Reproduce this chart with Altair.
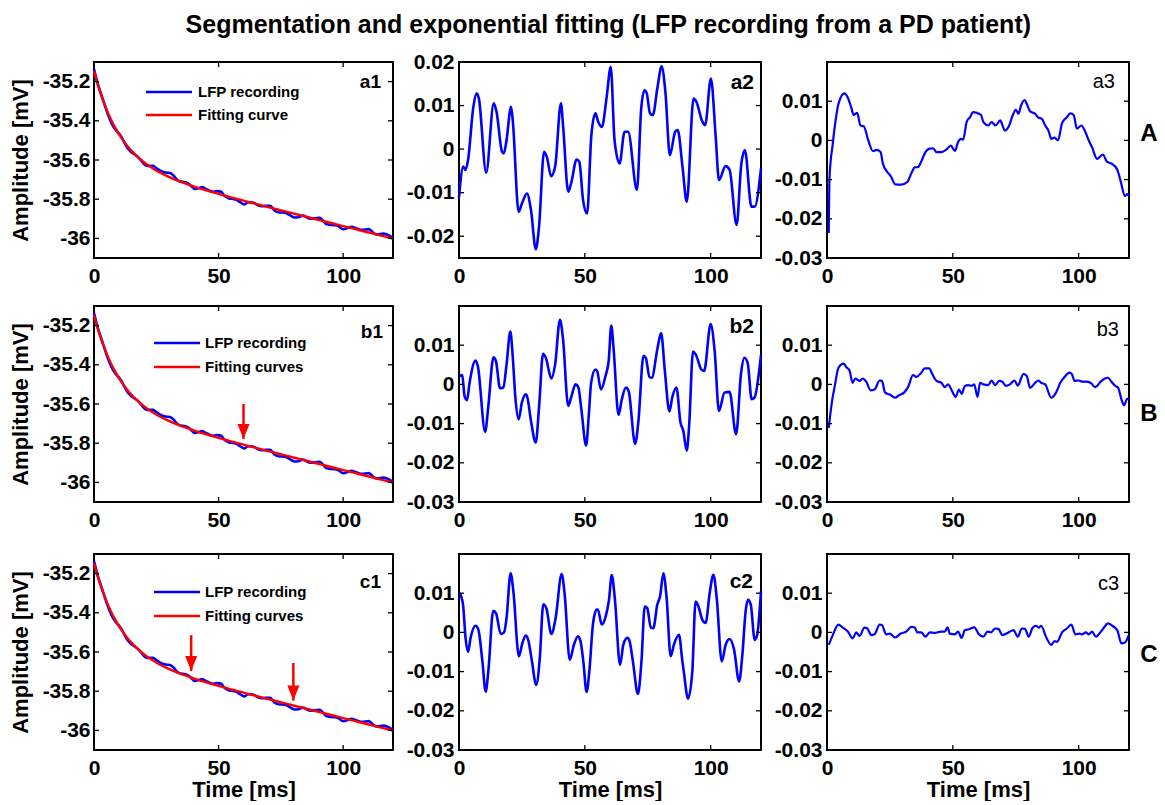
import altair as alt
import pandas as pd

TITLE = "Segmentation and exponential fitting (LFP recording from a PD patient)"

# ---------------- axis ticks ----------------
time_ticks = [0, 50, 100]
amp_ticks = [-36, -35.8, -35.6, -35.4, -35.2]
res_ticks_a2 = [-0.02, -0.01, 0, 0.01, 0.02]
res_ticks = [-0.03, -0.02, -0.01, 0, 0.01]

# ---------------- single exponential fit and its residual (a1 / a2) ----------------
t_a2 = [0.0, 1.7, 2.6, 3.6, 5.7, 7.0, 7.9, 10.8, 13.8, 14.9, 17.1, 17.8, 18.8, 20.7, 21.4,
        23.7, 25.0, 27.0, 28.6, 30.5, 31.8, 33.8, 34.9, 36.6, 38.2, 40.5, 41.4, 43.4, 44.7,
        46.7, 47.8, 49.3, 50.9, 52.6, 54.2, 55.3, 56.8, 58.6, 60.3, 61.8, 63.8, 65.8, 67.2,
        70.7, 72.4, 73.7, 74.6, 75.9, 77.0, 78.9, 80.5, 82.0, 83.8, 85.9, 86.9, 88.8, 90.5,
        93.2, 94.3, 96.7, 97.8, 100.1, 102.0, 103.3, 105.9, 107.5, 110.3, 112.2, 113.6,
        116.2, 117.5, 120.0]
fit_a1 = [-35.147, -35.2227, -35.2584, -35.2949, -35.3621, -35.3981, -35.4208, -35.4836,
          -35.5349, -35.5510, -35.5795, -35.5877, -35.5988, -35.6178, -35.6243, -35.6436,
          -35.6535, -35.6675, -35.6777, -35.6889, -35.6960, -35.7064, -35.7118, -35.7197,
          -35.7268, -35.7367, -35.7404, -35.7484, -35.7533, -35.7609, -35.7650, -35.7705,
          -35.7762, -35.7822, -35.7877, -35.7916, -35.7967, -35.8027, -35.8085, -35.8135,
          -35.8201, -35.8267, -35.8312, -35.8426, -35.8482, -35.8524, -35.8553, -35.8595,
          -35.8631, -35.8692, -35.8744, -35.8792, -35.8850, -35.8918, -35.8950, -35.9011,
          -35.9065, -35.9152, -35.9188, -35.9264, -35.9300, -35.9373, -35.9434, -35.9476,
          -35.9559, -35.9610, -35.9700, -35.9760, -35.9805, -35.9888, -35.9930, -36.0010]
res_a2 = [-0.011, -0.004, -0.0048, -0.0025, 0.0097, 0.0128, 0.0116, -0.0054, 0.0105, 0.0086,
          -0.0006, -0.001, 0.0017, 0.0097, 0.0063, -0.0144, -0.0125, -0.0102, -0.014, -0.023,
          -0.0178, -0.0006, -0.0018, -0.0062, -0.004, 0.0105, 0.005, -0.0098, -0.0075, -0.0024,
          -0.0029, -0.0117, -0.0148, 0.0032, 0.0082, 0.0063, 0.0051, 0.0116, 0.0189, 0.0021,
          -0.0033, 0.004, 0.004, -0.0094, 0.0093, 0.0135, 0.0128, 0.0082, 0.0078, 0.0143,
          0.019, 0.0132, -0.0014, 0.004, 0.0044, -0.004, -0.0121, 0.0116, 0.0109, 0.0063,
          0.0055, 0.0162, 0.0028, -0.0071, -0.0039, -0.0047, -0.0174, -0.0033, -0.0002, -0.0132,
          -0.0132, -0.0044]

# ---------------- one break (b2) ----------------
t_b2 = [0.3, 1.3, 2.2, 3.2, 4.2, 6.6, 7.5, 10.4, 11.6, 13.7, 14.7, 16.3, 17.6, 18.9, 20.4,
        21.3, 22.4, 23.7, 25.0, 26.6, 27.2, 28.6, 30.5, 31.8, 33.4, 34.5, 36.7, 38.2, 40.1,
        41.3, 43.4, 44.7, 46.3, 47.4, 48.7, 50.5, 51.6, 52.5, 54.2, 54.9, 56.4, 58.2, 59.5,
        60.5, 61.4, 63.4, 64.7, 66.3, 67.4, 70.0, 71.3, 73.3, 74.2, 75.7, 76.6, 78.9, 80.3,
        81.8, 83.6, 84.7, 86.4, 88.0, 89.1, 90.5, 91.4, 93.0, 94.1, 96.3, 97.4, 100.0, 101.6,
        103.3, 105.5, 107.5, 110.1, 112.1, 113.4, 114.7, 116.3, 117.4, 120.0]
res_b2 = [0.0021, 0.0024, -0.003, -0.004, 0.0004, 0.0061, 0.0046, -0.0121, -0.0059, 0.0069,
          0.0059, -0.001, -0.0008, 0.0051, 0.0135, 0.0076, -0.0034, -0.0089, -0.0046, -0.0025,
          -0.0034, -0.0093, -0.0148, -0.0059, 0.0078, 0.0068, 0.0015, 0.0051, 0.0165, 0.0118,
          -0.0055, -0.003, 0.0, -0.0007, -0.0068, -0.0156, -0.0076, 0.0004, 0.0038, 0.0034,
          -0.0013, 0.0021, 0.0061, 0.015, 0.0093, -0.0078, -0.0038, -0.0008, -0.0017, -0.0152,
          -0.0093, 0.0073, 0.0068, 0.0019, 0.0017, 0.0093, 0.0131, 0.0034, -0.0069, -0.0034,
          -0.0008, -0.0097, -0.0118, -0.0169, -0.011, 0.0084, 0.0076, 0.0038, 0.0034, 0.0154,
          0.0084, -0.0068, -0.0021, -0.0019, -0.0127, 0.003, 0.0068, 0.0055, -0.0038, -0.0034,
          0.0075]

# ---------------- two breaks (c2) ----------------
t_c2 = [0.3, 1.6, 2.6, 3.6, 4.6, 6.6, 7.7, 9.3, 10.6, 11.7, 13.6, 14.7, 16.6, 17.9, 18.9,
        20.5, 21.6, 23.8, 25.2, 26.5, 27.5, 28.9, 30.7, 32.1, 33.5, 34.7, 36.7, 38.4, 40.8,
        42.0, 44.0, 45.7, 47.3, 48.3, 49.4, 50.7, 51.9, 53.2, 54.7, 55.2, 56.7, 58.3, 59.6,
        60.7, 61.9, 64.0, 65.3, 66.9, 67.8, 69.1, 71.1, 72.5, 73.8, 74.8, 76.2, 77.2, 78.8,
        79.9, 81.2, 82.5, 84.1, 85.4, 87.4, 88.7, 89.4, 91.0, 92.7, 94.0, 95.0, 96.7, 98.0,
        99.6, 101.1, 102.4, 104.4, 106.0, 107.5, 109.3, 111.3, 112.6, 113.9, 114.8, 115.9,
        117.5, 118.5, 120.0]
res_c2 = [0.01, 0.0071, -0.0014, -0.005, -0.0014, 0.0017, 0.0007, -0.0074, -0.0151, -0.0096,
          0.0055, 0.0049, -0.0004, 0.0, 0.0037, 0.0151, 0.0105, -0.0061, -0.0027, -0.0008,
          -0.0019, -0.007, -0.0134, -0.0066, 0.0072, 0.0062, -0.0004, 0.0037, 0.0149, 0.0096,
          -0.007, -0.0031, -0.001, -0.0023, -0.0074, -0.0152, -0.0091, 0.002, 0.0058, 0.0058,
          0.002, 0.0041, 0.0083, 0.0146, 0.0088, -0.0083, -0.0031, -0.0014, -0.0023, -0.0074,
          -0.0157, -0.0074, 0.0066, 0.0062, 0.0013, 0.0011, 0.0071, 0.0092, 0.0151, 0.0088,
          -0.0061, -0.0031, -0.0006, -0.007, -0.0104, -0.0169, -0.01, 0.0079, 0.0069, 0.0032,
          0.0024, 0.01, 0.0147, 0.0088, -0.0074, -0.0031, -0.0017, -0.0044, -0.0125, -0.0057,
          0.0054, 0.0083, 0.0072, -0.0019, -0.0006, 0.0105]

# ---------------- filtered residuals (a3 / b3 / c3) ----------------
t_a3 = [0.7, 1.0, 2.3, 3.6, 4.5, 6.9, 8.2, 9.6, 10.6, 12.0, 13.3, 14.6, 16.5, 18.2, 19.9,
        21.3, 22.2, 23.9, 25.5, 27.1, 29.5, 31.9, 33.8, 34.8, 36.2, 37.5, 39.1, 40.8, 42.2,
        43.5, 45.5, 47.5, 49.2, 50.8, 52.1, 53.2, 54.1, 55.5, 56.8, 58.1, 61.2, 62.1, 64.1,
        65.4, 67.0, 68.8, 70.7, 72.1, 73.8, 75.0, 76.1, 77.1, 78.5, 79.4, 80.7, 82.7, 83.8,
        85.4, 86.7, 88.0, 89.1, 90.4, 91.8, 93.4, 95.3, 96.7, 98.0, 99.3, 101.1, 102.7, 104.0,
        105.3, 107.3, 109.6, 111.3, 113.0, 115.3, 116.6, 118.4, 119.3, 120.0]
res_a3 = [-0.0236, -0.0095, -0.0008, 0.0059, 0.0092, 0.012, 0.011, 0.0085, 0.0065, 0.007,
          0.0038, 0.0036, -0.0002, -0.0027, -0.0024, -0.003, -0.0059, -0.008, -0.0093, -0.0112,
          -0.0113, -0.0106, -0.008, -0.0069, -0.0068, -0.0053, -0.003, -0.0021, -0.002, -0.003,
          -0.003, -0.0023, -0.0013, -0.0027, -0.0004, 0.0004, 0.0002, 0.0047, 0.0059, 0.0072,
          0.0065, 0.0047, 0.0038, 0.0047, 0.0038, 0.0051, 0.0025, 0.0034, 0.0064, 0.0078,
          0.0068, 0.0089, 0.0103, 0.0093, 0.0074, 0.0068, 0.0059, 0.0055, 0.0038, 0.0025,
          0.0004, 0.0007, 0.0, 0.0044, 0.0059, 0.0069, 0.0065, 0.003, 0.0038, 0.0021, 0.0,
          -0.0017, -0.0047, -0.0036, -0.0055, -0.0059, -0.0074, -0.0102, -0.0142, -0.0137,
          -0.0142]

t_b3 = [0.7, 1.9, 3.2, 4.3, 5.3, 6.6, 7.8, 8.9, 10.2, 11.2, 12.9, 14.2, 15.6, 17.3, 18.9,
        20.9, 21.8, 23.1, 24.9, 27.1, 28.5, 30.6, 32.2, 34.2, 35.5, 37.5, 38.8, 40.6, 41.8,
        43.5, 45.5, 46.8, 48.1, 49.7, 51.1, 52.4, 53.5, 54.8, 56.1, 57.4, 58.5, 59.8, 60.8,
        62.1, 64.1, 65.4, 66.8, 68.4, 69.7, 71.0, 72.7, 74.5, 75.8, 78.1, 79.4, 80.7, 82.7,
        84.0, 85.1, 86.7, 89.1, 91.0, 92.7, 94.4, 96.3, 97.3, 98.4, 100.0, 101.3, 102.9, 104.7,
        106.6, 108.6, 110.4, 111.7, 113.0, 114.6, 115.7, 117.0, 118.0, 119.3, 120.0]
res_b3 = [-0.0111, -0.0047, 0.0, 0.0038, 0.0049, 0.0053, 0.0043, 0.0036, 0.0004, 0.0015,
          0.0009, 0.0015, 0.0007, -0.0015, -0.0013, 0.001, 0.0009, -0.0021, -0.0026, -0.0034,
          -0.0028, -0.0021, -0.0007, 0.0024, 0.0019, 0.003, 0.0041, 0.0041, 0.0027, 0.0009,
          0.0004, -0.0007, 0.0, -0.0017, -0.0032, -0.0013, -0.0024, -0.0004, -0.0002, -0.0004,
          0.0, -0.0032, 0.0004, 0.0, -0.0002, 0.001, -0.0002, 0.0009, 0.0007, -0.0004, 0.0,
          0.001, -0.0003, 0.0027, 0.0021, -0.0009, 0.0004, 0.001, 0.0004, 0.0, -0.0034, -0.0021,
          0.0004, 0.0019, 0.003, 0.0026, 0.0009, 0.001, 0.0007, 0.0007, 0.0004, -0.0007, 0.0006,
          0.0015, 0.0017, 0.0007, -0.0004, -0.0009, -0.0038, -0.0053, -0.0037, -0.0037]

t_c3 = [0.7, 2.3, 4.5, 6.3, 8.2, 10.2, 11.6, 12.9, 14.9, 16.0, 17.6, 18.9, 20.9, 21.8, 23.5,
        24.9, 27.1, 29.3, 31.5, 33.5, 34.8, 35.9, 37.5, 39.1, 40.8, 42.8, 45.2, 46.8, 47.9,
        48.8, 50.8, 52.1, 53.5, 54.8, 56.4, 58.5, 60.4, 62.1, 63.8, 65.2, 66.8, 68.1, 69.7,
        72.1, 74.1, 75.8, 77.4, 78.7, 80.1, 81.7, 83.0, 84.3, 85.1, 87.0, 89.1, 90.4, 91.4,
        93.4, 95.3, 97.1, 98.7, 100.3, 101.3, 102.9, 104.0, 105.3, 106.9, 108.6, 110.0, 111.7,
        113.3, 115.3, 117.0, 118.4, 119.9]
res_c3 = [-0.0032, -0.0007, 0.002, 0.0012, 0.0003, -0.0015, 0.0, -0.0009, 0.0012, 0.001,
          -0.0007, -0.0005, 0.002, 0.0019, -0.0005, -0.0003, -0.0013, -0.0003, 0.0002, 0.0014,
          0.0013, 0.0, 0.0, -0.0011, 0.0, -0.0001, 0.0002, 0.0002, 0.0013, -0.0003, -0.0005,
          0.0002, -0.0014, 0.0006, 0.0008, 0.0013, -0.0005, -0.0011, 0.0002, 0.0, 0.001, 0.0009,
          -0.0007, 0.0, 0.0006, -0.0011, 0.001, 0.0009, -0.0011, 0.0012, 0.0017, 0.0012, 0.0017,
          -0.0011, -0.0032, -0.0022, -0.0024, 0.0, 0.001, 0.002, -0.0005, -0.0003, -0.0005, 0.0,
          -0.0005, 0.0002, -0.0011, 0.0, 0.0012, 0.0023, 0.0017, 0.0006, -0.0028, -0.0026,
          -0.0007]

# segment boundaries marked by arrows in the first column (ms, mV)
arrow_t = [[], [60], [39, 80]]
arrow_top = [[], [-35.60], [-35.514, -35.656]]
arrow_tip = [[], [-35.778], [-35.697, -35.848]]

panel_tags = [["a1", "a2", "a3"], ["b1", "b2", "b3"], ["c1", "c2", "c3"]]
row_letters = ["A", "B", "C"]
legend_names = [["LFP recording", "Fitting curve"],
                ["LFP recording", "Fitting curves"],
                ["LFP recording", "Fitting curves"]]

# the recording is the fitted curve minus the residual shown in a2
lfp = [f - r for f, r in zip(fit_a1, res_a2)]

df_fit = pd.DataFrame({"t": t_a2, "v": fit_a1})
df_lfp = pd.DataFrame({"t": t_a2, "v": lfp})
mid_frames = [pd.DataFrame({"t": t_a2, "v": res_a2}),
              pd.DataFrame({"t": t_b2, "v": res_b2}),
              pd.DataFrame({"t": t_c2, "v": res_c2})]
right_frames = [pd.DataFrame({"t": t_a3, "v": res_a3}),
                pd.DataFrame({"t": t_b3, "v": res_b3}),
                pd.DataFrame({"t": t_c3, "v": res_c3})]

# ---------------- styling ----------------
BLUE, RED, INK = "#0000ff", "#ff0000", "#000000"
FONT = "Liberation Sans"
W1, W2, H = 299, 302, 196
TK = 5
MINUS = "replace(datum.label, '\u2212', '-')"
HEAD = "M-0.5,-1.25L0,0L0.5,-1.25Z"


def scales(ydom):
    return (alt.Scale(domain=[0, 120], nice=False, zero=False),
            alt.Scale(domain=ydom, nice=False, zero=False))


def x_axis(last):
    return alt.Axis(values=time_ticks, title="Time [ms]" if last else None,
                    labelFlush=False, labelPadding=7, minExtent=24, maxExtent=24,
                    titlePadding=5)


def y_axis(ticks, title=None):
    if title:
        return alt.Axis(values=ticks, title=title, format="~g", labelExpr=MINUS,
                        labelFlush=False, labelPadding=4, minExtent=52, maxExtent=52,
                        titlePadding=10)
    return alt.Axis(values=ticks, title=None, format="~g", labelExpr=MINUS,
                    labelFlush=False, labelPadding=5)


def frame_ticks(xsc, ysc, yticks, w):
    # MATLAB-style inward ticks on all four sides of the box
    xt = alt.Chart(pd.DataFrame({"t": time_ticks}))
    yt = alt.Chart(pd.DataFrame({"v": yticks}))
    xe = alt.X("t:Q", scale=xsc)
    ye = alt.Y("v:Q", scale=ysc)
    st = dict(color=INK, strokeWidth=1.3)
    return [
        xt.mark_rule(**st).encode(x=xe, y=alt.value(H - TK), y2=alt.value(H)),
        xt.mark_rule(**st).encode(x=xe, y=alt.value(0), y2=alt.value(TK)),
        yt.mark_rule(**st).encode(y=ye, x=alt.value(0), x2=alt.value(TK)),
        yt.mark_rule(**st).encode(y=ye, x=alt.value(w - TK), x2=alt.value(w)),
    ]


def tag(text, x, y, size, weight, align="right"):
    return alt.Chart(pd.DataFrame({"s": [text]})).mark_text(
        font=FONT, fontSize=size, fontWeight=weight, align=align, baseline="middle",
        color=INK).encode(text="s:N", x=alt.value(x), y=alt.value(y))


LEG_Y = [(30, 53), (37, 61), (38, 62)]
LEG_X = [(52, 98, 104), (60, 106, 111), (60, 106, 111)]
TAG1 = [(287, 20), (289, 26), (287, 28)]
TAG2 = [(295, 21), (295, 21), (294, 28)]
TAG3 = [(288, 20), (292, 24), (292, 30)]
LETTER_Y = [72, 108, 101]


def recording_panel(r):
    xsc, ysc = scales([-36.1, -35.1])
    last = r == 2
    rec = alt.Chart(df_lfp).mark_line(color=BLUE, strokeWidth=2.6, interpolate="monotone").encode(
        x=alt.X("t:Q", scale=xsc, axis=x_axis(last)),
        y=alt.Y("v:Q", scale=ysc, axis=y_axis(amp_ticks, "Amplitude [mV]")))
    fit = alt.Chart(df_fit).mark_line(color=RED, strokeWidth=2.4, interpolate="monotone").encode(
        x=alt.X("t:Q", scale=xsc), y=alt.Y("v:Q", scale=ysc))
    layers = [rec, fit] + frame_ticks(xsc, ysc, amp_ticks, W1)
    if arrow_t[r]:
        adf = pd.DataFrame({"t": arrow_t[r], "top": arrow_top[r], "tip": arrow_tip[r]})
        xe = alt.X("t:Q", scale=xsc)
        layers.append(alt.Chart(adf).mark_rule(color=RED, strokeWidth=2.5).encode(
            x=xe, y=alt.Y("top:Q", scale=ysc), y2="tip:Q"))
        layers.append(alt.Chart(adf).mark_point(
            shape=HEAD, filled=True, color=RED, size=576, opacity=1, strokeWidth=0).encode(
            x=xe, y=alt.Y("tip:Q", scale=ysc)))
    # legend
    y1, y2 = LEG_Y[r]
    x0, x1, xt = LEG_X[r]
    for yy, colr, name in [(y1, BLUE, legend_names[r][0]), (y2, RED, legend_names[r][1])]:
        layers.append(alt.Chart(pd.DataFrame({"s": [name]})).mark_rule(
            color=colr, strokeWidth=2.6).encode(x=alt.value(x0), x2=alt.value(x1), y=alt.value(yy)))
        layers.append(tag(name, xt, yy, 15, "bold", align="left"))
    tx, ty = TAG1[r]
    layers.append(tag(panel_tags[r][0], tx, ty, 19, "bold"))
    return alt.layer(*layers).properties(width=W1, height=H)


def residual_panel(r, col):
    if col == 1:
        ydom = [-0.025, 0.02] if r == 0 else [-0.03, 0.02]
        yt = res_ticks_a2 if r == 0 else res_ticks
        df = mid_frames[r]
        width = 2.6
    else:
        ydom, yt = [-0.03, 0.02], res_ticks
        df = right_frames[r]
        width = 2.2
    xsc, ysc = scales(ydom)
    layers = [alt.Chart(df).mark_line(color=BLUE, strokeWidth=width, interpolate="monotone").encode(
        x=alt.X("t:Q", scale=xsc, axis=x_axis(r == 2)),
        y=alt.Y("v:Q", scale=ysc, axis=y_axis(yt)))]
    layers += frame_ticks(xsc, ysc, yt, W2)
    if col == 1:
        tx, ty = TAG2[r]
        layers.append(tag(panel_tags[r][1], tx, ty, 21, "bold"))
    else:
        tx, ty = TAG3[r]
        layers.append(tag(panel_tags[r][2], tx, ty, 20, "normal"))
        layers.append(tag(row_letters[r], W2 + 20, LETTER_Y[r], 24, "bold", align="center"))
    return alt.layer(*layers).properties(width=W2, height=H)


rows = [alt.hconcat(recording_panel(r), residual_panel(r, 1), residual_panel(r, 2), spacing=5)
        for r in range(3)]

top_rows = alt.vconcat(rows[0], rows[1], spacing=17)

chart = alt.vconcat(top_rows, rows[2], spacing=21).properties(
    title=alt.TitleParams(TITLE, font=FONT, fontSize=25, fontWeight="bold", color=INK,
                          anchor="middle", dx=25, offset=12),
    padding={"left": 8, "top": 13, "right": 0, "bottom": 0},
    background="white",
).configure_view(stroke=INK, strokeWidth=2).configure_axis(
    labelFont=FONT, labelFontSize=21, labelFontWeight="bold", labelColor=INK,
    titleFont=FONT, titleFontSize=22, titleFontWeight="bold", titleColor=INK,
    domain=False, ticks=False, grid=False,
)

chart.save("out.html", embed_options={"renderer": "svg", "actions": False})
